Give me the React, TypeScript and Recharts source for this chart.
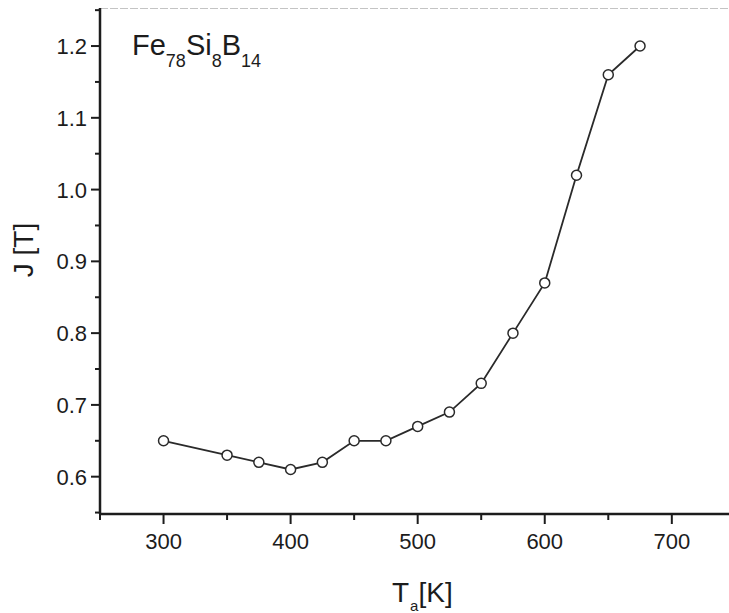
import { LineChart, Line, XAxis, YAxis, ReferenceLine } from 'recharts'

// annealing temperature [K] and saturation polarization J [T]
const temps = [300, 350, 375, 400, 425, 450, 475, 500, 525, 550, 575, 600, 625, 650, 675]
const jValues = [0.65, 0.63, 0.62, 0.61, 0.62, 0.65, 0.65, 0.67, 0.69, 0.73, 0.8, 0.87, 1.02, 1.16, 1.2]

const xTicks = [250, 300, 350, 400, 450, 500, 550, 600, 650, 700]
const yTicks = [0.55, 0.6, 0.65, 0.7, 0.75, 0.8, 0.85, 0.9, 0.95, 1.0, 1.05, 1.1, 1.15, 1.2, 1.25]

const data = temps.map((t, i) => ({ t, j: jValues[i] }))

const FONT = '"Liberation Sans", Arial, sans-serif'
const INK = '#1c1c1c'

const XTick = (props: any) => {
  const { x, y, payload } = props
  const v = payload.value
  const major = v % 100 === 0
  return (
    <g>
      <line x1={x} x2={x} y1={y} y2={y + (major ? 10 : 6)} stroke={INK} strokeWidth={2} />
      {major && (
        <text x={x} y={y + 35} textAnchor="middle" fontSize={22} fontFamily={FONT} fill={INK}>
          {v}
        </text>
      )}
    </g>
  )
}

const YTick = (props: any) => {
  const { x, y, payload } = props
  const v = payload.value
  const major = Math.abs(v * 10 - Math.round(v * 10)) < 1e-6
  return (
    <g>
      <line x1={x} x2={x - (major ? 9 : 5)} y1={y} y2={y} stroke={INK} strokeWidth={2} />
      {major && (
        <text x={x - 13} y={y} dy="0.36em" textAnchor="end" fontSize={22} fontFamily={FONT} fill={INK}>
          {v.toFixed(1)}
        </text>
      )}
    </g>
  )
}

export default function App() {
  return (
    <div style={{ position: 'absolute', top: 8, left: 8, width: 721, height: 605, background: '#fff' }}>
      <LineChart width={721} height={605} data={data} margin={{ top: 0, right: 0, bottom: 0, left: 0 }}>
        <XAxis
          type="number"
          dataKey="t"
          domain={[250, 745]}
          ticks={xTicks}
          interval={0}
          height={99}
          tickSize={0}
          tickMargin={0}
          tickLine={false}
          axisLine={{ stroke: INK, strokeWidth: 2.5 }}
          tick={<XTick />}
        />
        <YAxis
          type="number"
          dataKey="j"
          domain={[0.548, 1.253]}
          ticks={yTicks}
          interval={0}
          width={92}
          tickSize={0}
          tickMargin={0}
          tickLine={false}
          axisLine={{ stroke: INK, strokeWidth: 2.5 }}
          tick={<YTick />}
        />
        <ReferenceLine y={1.253} stroke="#8a8a8a" strokeWidth={1} strokeDasharray="8 2" />
        <Line
          type="linear"
          dataKey="j"
          stroke="#2a2a2a"
          strokeWidth={1.8}
          dot={{ r: 5, fill: '#fff', stroke: '#2a2a2a', strokeWidth: 1.5 }}
          isAnimationActive={false}
        />
      </LineChart>
      <svg
        width={721}
        height={605}
        style={{ position: 'absolute', top: 0, left: 0, pointerEvents: 'none' }}
        fontFamily={FONT}
        fill={INK}
      >
        <text x={124} y={47} fontSize={29}>
          Fe
          <tspan fontSize={18} dy={12}>78</tspan>
          <tspan dy={-12}>Si</tspan>
          <tspan fontSize={18} dy={12}>8</tspan>
          <tspan dy={-12}>B</tspan>
          <tspan fontSize={18} dy={12}>14</tspan>
        </text>
        <text x={384} y={594} fontSize={28}>
          T
          <tspan fontSize={15} dx={1} dy={9}>a</tspan>
          <tspan dy={-9}>[K]</tspan>
        </text>
        <text x={25} y={242} fontSize={28} textAnchor="middle" transform="rotate(-90, 25, 242)">
          J [T]
        </text>
      </svg>
    </div>
  )
}
